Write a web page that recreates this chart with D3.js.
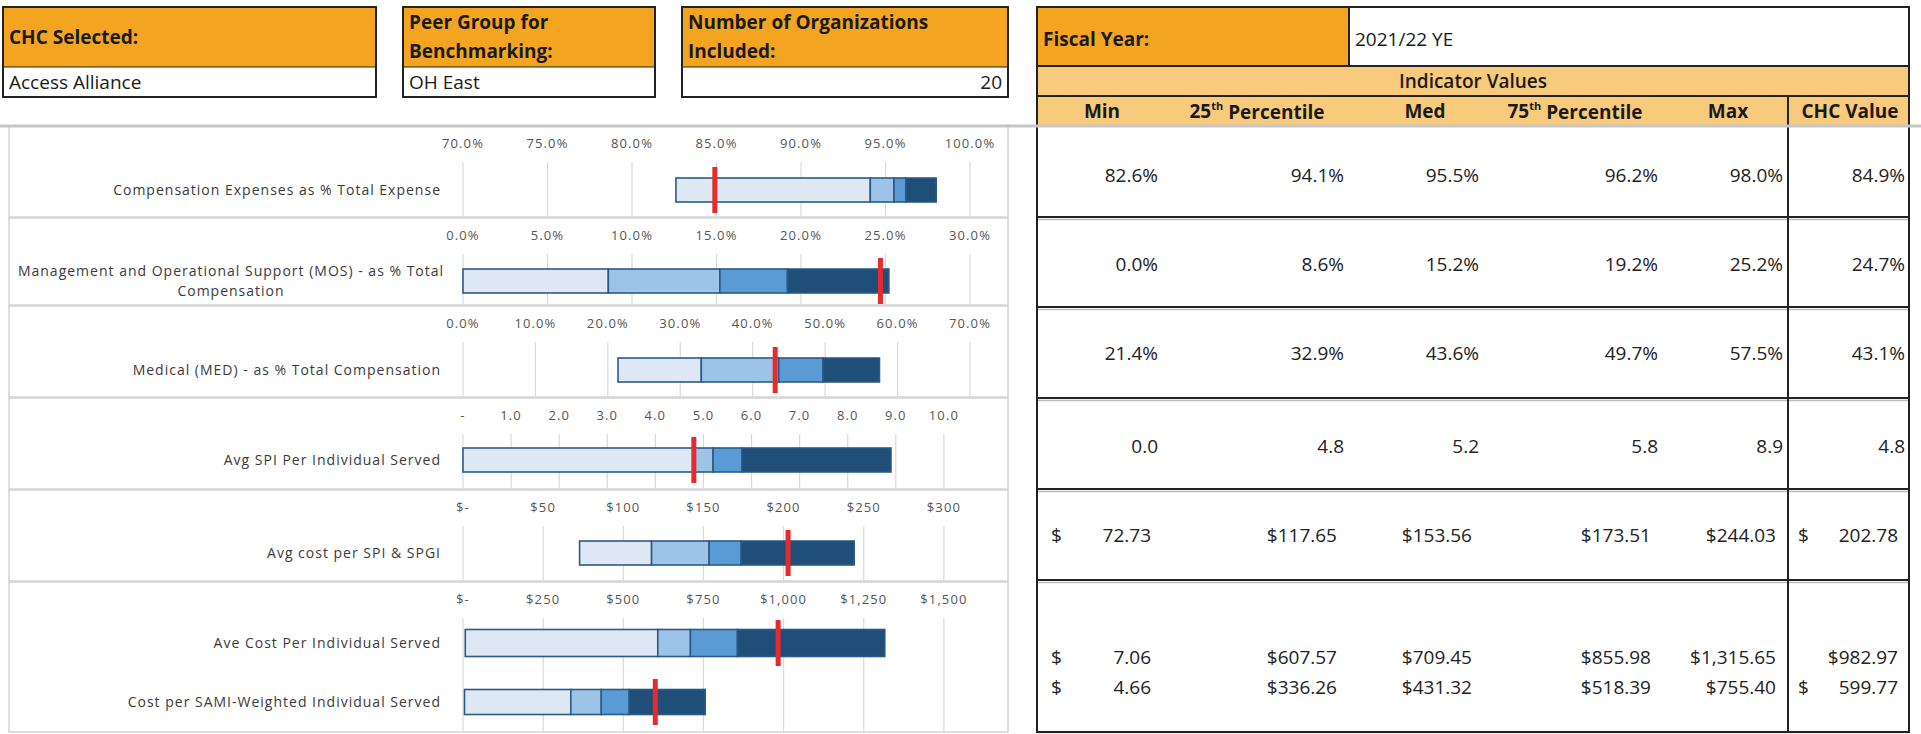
<!DOCTYPE html>
<html>
<head>
<meta charset="utf-8">
<script src="https://cdn.jsdelivr.net/npm/d3@7"></script>
<style>
body { margin: 0; background: #fff; }
svg text { font-family: "Open Sans", "DejaVu Sans", sans-serif; }
</style>
</head>
<body>
<div id="sheet"></div>
<script>
// header info
var chcSelected = "Access Alliance";
var peerGroup = "OH East";
var orgCount = 20;
var fiscalYear = "2021/22 YE";

// indicators (\n = line break in chart label)
var indicators = [
    "Compensation Expenses as % Total Expense",
    "Management and Operational Support (MOS) - as % Total\nCompensation",
    "Medical (MED) - as % Total Compensation",
    "Avg SPI Per Individual Served",
    "Avg cost per SPI & SPGI",
    "Ave Cost Per Individual Served",
    "Cost per SAMI-Weighted Individual Served"
];
var valueType = ["pct", "pct", "pct", "num", "usd", "usd", "usd"];

var minVals = [82.6, 0.0, 21.4, 0.0, 72.73, 7.06, 4.66];
var p25Vals = [94.1, 8.6, 32.9, 4.8, 117.65, 607.57, 336.26];
var medVals = [95.5, 15.2, 43.6, 5.2, 153.56, 709.45, 431.32];
var p75Vals = [96.2, 19.2, 49.7, 5.8, 173.51, 855.98, 518.39];
var maxVals = [98.0, 25.2, 57.5, 8.9, 244.03, 1315.65, 755.40];
var chcVals = [84.9, 24.7, 43.1, 4.8, 202.78, 982.97, 599.77];
// CHC cells shown in accounting format ($ at left of cell)
var chcAccounting = [false, false, false, false, true, false, true];

// chart panels: which panel each indicator sits in, and each panel's axis
var panelOf = [0, 1, 2, 3, 4, 5, 5];
var panelTicks = [
    [70, 75, 80, 85, 90, 95, 100],
    [0, 5, 10, 15, 20, 25, 30],
    [0, 10, 20, 30, 40, 50, 60, 70],
    [0, 1, 2, 3, 4, 5, 6, 7, 8, 9, 10],
    [0, 50, 100, 150, 200, 250, 300],
    [0, 250, 500, 750, 1000, 1250, 1500]
];
var panelMin = [70, 0, 0, 0, 0, 0];
var panelMax = [100, 30, 70, 11.25, 337.5, 1687.5];
var panelFormat = ["pct", "pct", "pct", "num", "usd", "usd"];

var headerCols = [["Min"], ["25", "th", " Percentile"], ["Med"], ["75", "th", " Percentile"], ["Max"], ["CHC Value"]];

// layout
var W = 1921, H = 734;
var orange = "#f3a521", lightOrange = "#f8ca7c";
var segColors = ["#dee8f4", "#9dc3e6", "#5b9bd5", "#1f4e79"];
var panelTop = [126, 218, 306, 398, 490, 582, 733];
var xLeft = 463;
var labelRight = 441;
var tableX0 = 1037, tableX1 = 1909, chcSep = 1788;
var tableLines = [126, 217, 307, 398, 489, 580, 732];
var valueY = [175, 264, 353, 446, 535, 657, 687];
var colRight = [1158, 1344, 1479, 1658, 1783, 1905];
var colCenter = [1102, 1257, 1425, 1575, 1728, 1850];

var svg = d3.select("#sheet").append("svg")
    .attr("width", W)
    .attr("height", H);

function fmtValue(v, type) {
    if (type == "pct") return d3.format(".1f")(v) + "%";
    if (type == "num") return d3.format(".1f")(v);
    return "$" + d3.format(",.2f")(v);
}

function fmtTick(v, type) {
    if (type == "pct") return d3.format(".1f")(v) + "%";
    if (type == "num") return v == 0 ? "-" : d3.format(".1f")(v);
    return v == 0 ? "$-" : "$" + d3.format(",")(v);
}

// ---------- top info boxes ----------
function infoBox(x, w, lines, value, alignRight) {
    var g = svg.append("g");
    g.append("rect").attr("x", x).attr("y", 7).attr("width", w).attr("height", 60).attr("fill", orange);
    g.append("rect").attr("x", x).attr("y", 7).attr("width", w).attr("height", 90)
        .attr("fill", "none").attr("stroke", "#222").attr("stroke-width", 2);
    g.append("line").attr("x1", x).attr("x2", x + w).attr("y1", 67).attr("y2", 67)
        .attr("stroke", "#222").attr("stroke-width", 1);
    var ys = lines.length == 1 ? [37] : [22, 51];
    lines.forEach(function (t, i) {
        g.append("text").attr("x", x + 6).attr("y", ys[i]).attr("dy", ".35em")
            .attr("font-size", 19).attr("font-weight", "bold").attr("fill", "#1a1a1a")
            .text(t);
    });
    g.append("text")
        .attr("x", alignRight ? x + w - 6 : x + 6)
        .attr("y", 82).attr("dy", ".35em")
        .attr("text-anchor", alignRight ? "end" : "start")
        .attr("font-size", 19).attr("fill", "#1a1a1a")
        .text(value);
}

infoBox(3, 373, ["CHC Selected:"], chcSelected, false);
infoBox(403, 252, ["Peer Group for", "Benchmarking:"], peerGroup, false);
infoBox(682, 326, ["Number of Organizations", "Included:"], orgCount, true);

// ---------- right table header ----------
svg.append("rect").attr("x", tableX0).attr("y", 7).attr("width", 312).attr("height", 59).attr("fill", orange);
svg.append("rect").attr("x", tableX0).attr("y", 66).attr("width", tableX1 - tableX0).attr("height", 60).attr("fill", lightOrange);
svg.append("text").attr("x", tableX0 + 6).attr("y", 39).attr("dy", ".35em")
    .attr("font-size", 19).attr("font-weight", "bold").attr("fill", "#1a1a1a").text("Fiscal Year:");
svg.append("text").attr("x", 1355).attr("y", 39).attr("dy", ".35em")
    .attr("font-size", 19).attr("fill", "#1a1a1a").text(fiscalYear);
svg.append("text").attr("x", (tableX0 + tableX1) / 2).attr("y", 81).attr("dy", ".35em")
    .attr("text-anchor", "middle").attr("font-size", 19).attr("font-weight", 600)
    .attr("fill", "#1a1a1a").text("Indicator Values");

headerCols.forEach(function (parts, i) {
    var t = svg.append("text").attr("x", colCenter[i]).attr("y", 111).attr("dy", ".35em")
        .attr("text-anchor", "middle").attr("font-size", 19).attr("font-weight", "bold").attr("fill", "#1a1a1a");
    parts.forEach(function (p, j) {
        var ts = t.append("tspan").text(p);
        if (j == 1) ts.attr("font-size", 11).attr("dy", "-0.7em");
        if (j == 2) ts.attr("dy", "0.45em");
    });
});

// table row lines: faint grey shadow then black rule
tableLines.slice(1).forEach(function (y) {
    svg.append("line").attr("x1", tableX0).attr("x2", tableX1).attr("y1", y + 2.5).attr("y2", y + 2.5)
        .attr("stroke", "#bdbdbd").attr("stroke-width", 1.5);
});

// header borders
var hb = svg.append("g").attr("stroke", "#222").attr("stroke-width", 2).attr("fill", "none");
hb.append("rect").attr("x", tableX0).attr("y", 7).attr("width", tableX1 - tableX0).attr("height", H - 2 - 7);
hb.append("line").attr("x1", 1349).attr("x2", 1349).attr("y1", 7).attr("y2", 66);
hb.append("line").attr("x1", tableX0).attr("x2", tableX1).attr("y1", 66).attr("y2", 66);
hb.append("line").attr("x1", tableX0).attr("x2", tableX1).attr("y1", 96).attr("y2", 96);
hb.append("line").attr("x1", chcSep).attr("x2", chcSep).attr("y1", 96).attr("y2", H - 2);
tableLines.slice(1).forEach(function (y) {
    hb.append("line").attr("x1", tableX0).attr("x2", tableX1).attr("y1", y).attr("y2", y);
});

// ---------- table values ----------
var rows = indicators.map(function (name, i) {
    return [minVals[i], p25Vals[i], medVals[i], p75Vals[i], maxVals[i], chcVals[i]];
});

rows.forEach(function (vals, i) {
    var type = valueType[i];
    vals.forEach(function (v, c) {
        var acct = type == "usd" && (c == 0 || (c == 5 && chcAccounting[i]));
        var txt = fmtValue(v, type);
        var xr = colRight[c] - (type == "usd" ? 7 : 0);
        if (acct) {
            txt = txt.slice(1);
            svg.append("text").attr("x", c == 0 ? 1051 : 1798).attr("y", valueY[i]).attr("dy", ".35em")
                .attr("font-size", 19).attr("fill", "#222").text("$");
        }
        svg.append("text").attr("x", xr).attr("y", valueY[i]).attr("dy", ".35em")
            .attr("text-anchor", "end").attr("font-size", 19).attr("fill", "#222")
            .text(txt);
    });
});

// ---------- bullet charts ----------
var panels = d3.range(6).map(function (p) {
    var right = p < 3 ? 970 : 1004;
    return {
        top: panelTop[p],
        bottom: panelTop[p + 1],
        x: d3.scaleLinear().domain([panelMin[p], panelMax[p]]).range([xLeft, right])
    };
});

panels.forEach(function (pn, p) {
    var g = svg.append("g");
    // gridlines
    g.selectAll("line.grid")
        .data(panelTicks[p])
        .enter().append("line")
        .attr("x1", function (d) { return pn.x(d); })
        .attr("x2", function (d) { return pn.x(d); })
        .attr("y1", pn.top + 36)
        .attr("y2", pn.bottom - 2)
        .attr("stroke", "#d9d9d9")
        .attr("stroke-width", 1.2);
    // tick labels on top
    g.selectAll("text.tick")
        .data(panelTicks[p])
        .enter().append("text")
        .attr("x", function (d) { return pn.x(d); })
        .attr("y", pn.top + 17)
        .attr("dy", ".35em")
        .attr("text-anchor", "middle")
        .attr("font-size", 13)
        .attr("letter-spacing", 1.1)
        .attr("fill", "#555")
        .text(function (d) { return fmtTick(d, panelFormat[p]); });
});

// bar positions within panel
var barOffset = [64, 63, 64, 62, 63, 61, 120];
var barH = [24, 24, 24, 24, 24, 27, 25];

indicators.forEach(function (name, i) {
    var pn = panels[panelOf[i]];
    var x = pn.x;
    var cy = pn.top + barOffset[i];
    var bounds = [minVals[i], p25Vals[i], medVals[i], p75Vals[i], maxVals[i]];
    var segs = d3.range(4).map(function (k) { return {a: bounds[k], b: bounds[k + 1], k: k}; });

    svg.selectAll(null)
        .data(segs)
        .enter().append("rect")
        .attr("x", function (d) { return x(d.a); })
        .attr("width", function (d) { return Math.max(0, x(d.b) - x(d.a)); })
        .attr("y", cy - barH[i] / 2)
        .attr("height", barH[i])
        .attr("fill", function (d) { return segColors[d.k]; })
        .attr("stroke", "#2b5a86")
        .attr("stroke-width", 1.6);

    // CHC marker
    svg.append("rect")
        .attr("x", x(chcVals[i]) - 2.5)
        .attr("width", 5)
        .attr("y", cy - 23)
        .attr("height", 46)
        .attr("fill", "#e52b2e");

    // label
    var lines = name.split("\n");
    var lbl = svg.append("text")
        .attr("font-size", 14)
        .attr("letter-spacing", 1.0)
        .attr("fill", "#3a3a3a");
    if (lines.length == 1) {
        lbl.attr("x", labelRight).attr("y", cy).attr("dy", ".35em")
            .attr("text-anchor", "end").text(name);
    } else {
        lbl.attr("text-anchor", "middle");
        lines.forEach(function (l, j) {
            lbl.append("tspan").attr("x", 231).attr("y", cy - 10 + j * 20).attr("dy", ".35em").text(l);
        });
    }
});

// panel frames
var frames = svg.append("g").attr("fill", "none");
panels.forEach(function (pn) {
    frames.append("rect")
        .attr("x", 9).attr("y", pn.top)
        .attr("width", 999).attr("height", pn.bottom - pn.top - 1)
        .attr("stroke", "#d4d4d4").attr("stroke-width", 1.5);
});

// grey divider under the header area
svg.append("line")
    .attr("x1", 0).attr("x2", W).attr("y1", 126).attr("y2", 126)
    .attr("stroke", "#c6c6c6").attr("stroke-width", 3);
</script>
</body>
</html>
